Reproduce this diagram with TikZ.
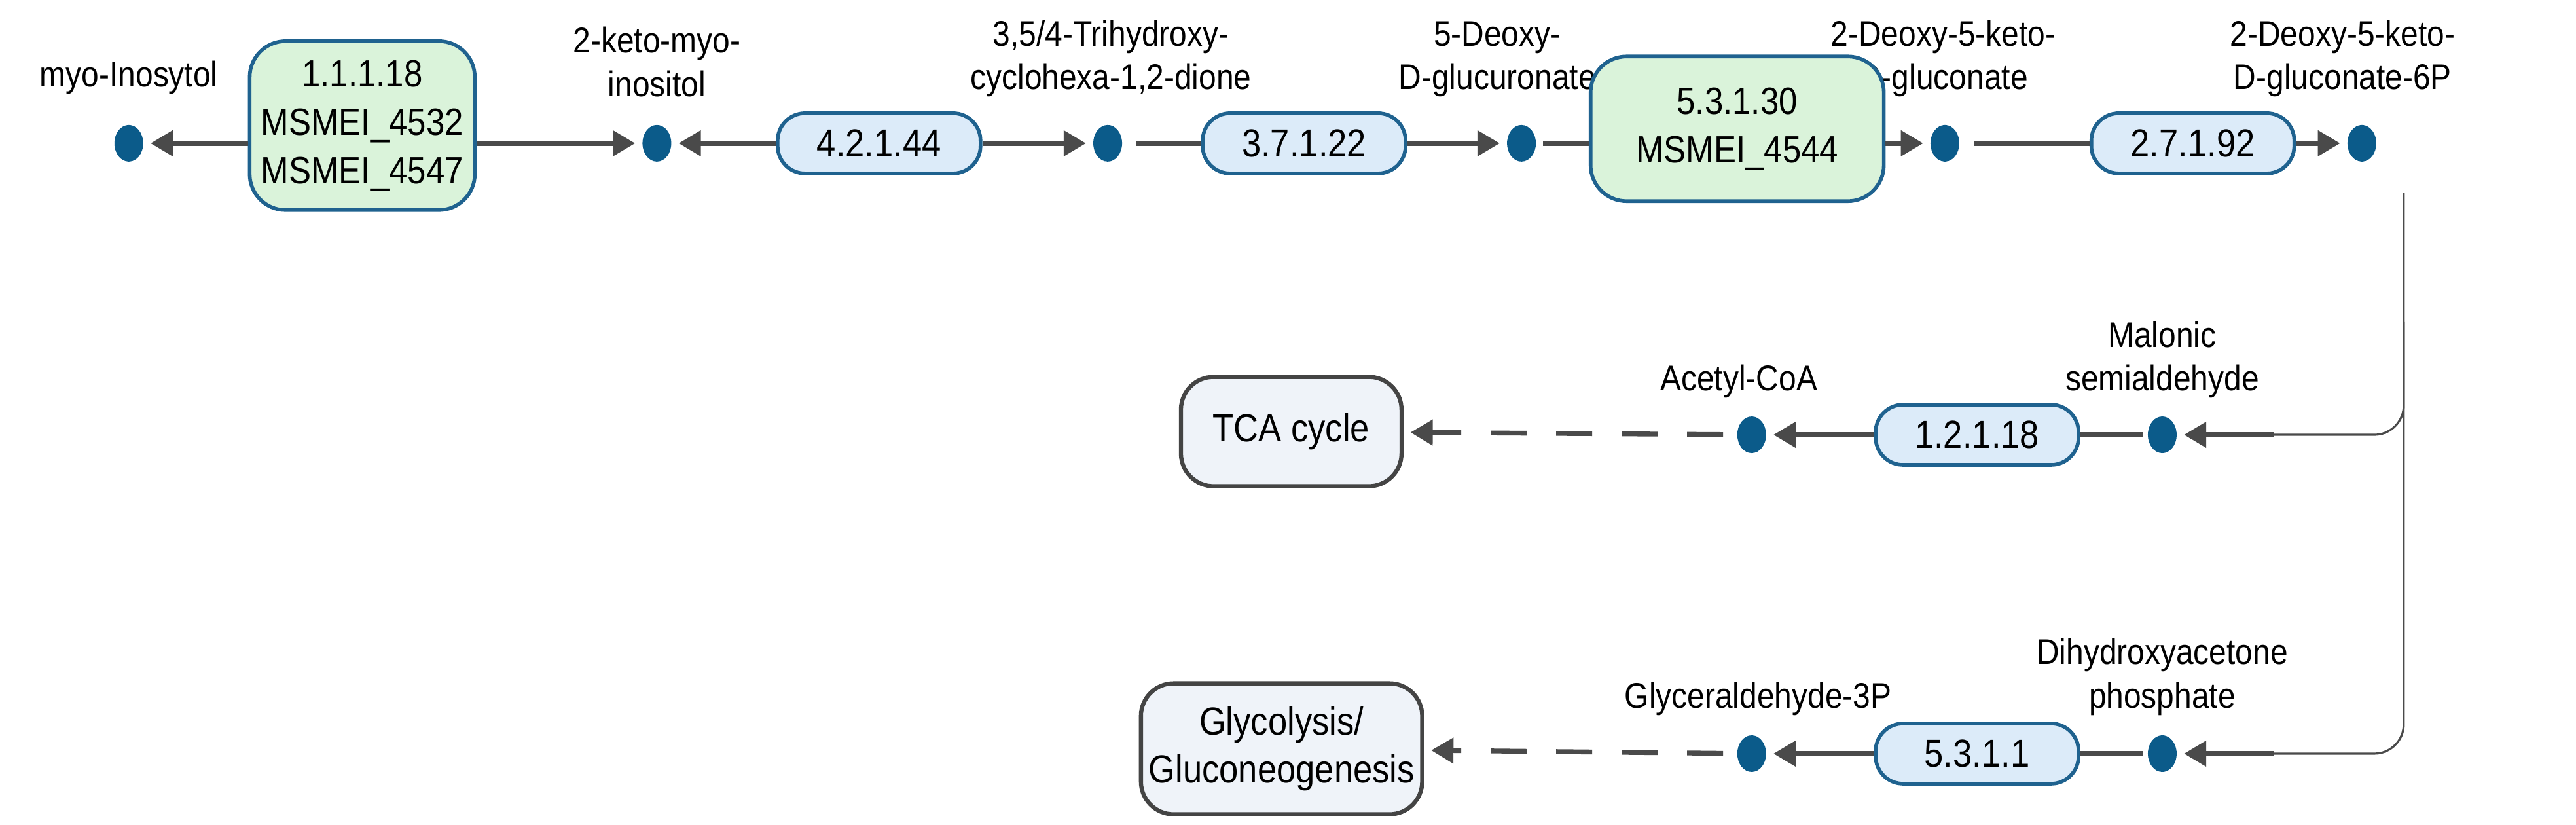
\documentclass[tikz,border=0pt]{standalone}
\usepackage{fontspec}
\setmainfont{Liberation Sans}[FakeStretch=0.88]
\usetikzlibrary{arrows.meta,shapes.geometric}
\definecolor{arr}{HTML}{4A4A4A}
\definecolor{dotb}{HTML}{0B5B8A}
\definecolor{bord}{HTML}{1F628F}
\definecolor{gfill}{HTML}{DAF3DA}
\definecolor{bfill}{HTML}{DCEBF9}
\definecolor{pfill}{HTML}{EFF3F9}
\definecolor{pbord}{HTML}{444444}
\begin{document}
\begin{tikzpicture}[x=0.02459cm,y=-0.02459cm,
  dot/.style={ellipse,fill=dotb,minimum width=0.44cm,minimum height=0.56cm,inner sep=0pt},
  lab/.style={font=\fontsize{15.5}{19}\selectfont,align=center,anchor=south,inner sep=1pt},
  enz/.style={draw=bord,fill=bfill,line width=1.6pt,rounded corners=0.42cm,minimum width=3.1cm,minimum height=0.92cm,font=\fontsize{17}{20}\selectfont,inner sep=2pt},
  gbox/.style={draw=bord,fill=gfill,line width=1.6pt,rounded corners=0.55cm,font=\fontsize{16.5}{21}\selectfont,align=center},
  pbox/.style={draw=pbord,fill=pfill,line width=1.8pt,rounded corners=0.5cm,font=\fontsize{17}{21}\selectfont,align=center},
  ar/.style={draw=arr,line width=2.1pt,-{Triangle[length=0.34cm,width=0.38cm]},shorten >=3pt},
  ln/.style={draw=arr,line width=2.1pt},
  da/.style={ar,dash pattern=on 0.55cm off 0.45cm},
  br/.style={draw=arr,line width=0.9pt,rounded corners=0.45cm}]
\useasboundingbox (0,0) rectangle (1600,512);
% row 1 dots
\node[dot] (d1) at (80,89) {};
\node[dot] (d2) at (408,89) {};
\node[dot] (d3) at (688,89) {};
\node[dot] (d4) at (945,89) {};
\node[dot] (d5) at (1208,89) {};
\node[dot] (d6) at (1467,89) {};
% row 2 / 3 dots
\node[dot] (m) at (1343,270) {};
\node[dot] (ac) at (1088,270) {};
\node[dot] (dh) at (1343,468) {};
\node[dot] (g3) at (1088,468) {};
% labels
\node[lab] at (80,60) {myo-Inosytol};
\node[lab] at (408,62) {2-keto-myo-\\inositol};
\node[lab] at (690,62) {3,5/4-Trihydroxy-\\cyclohexa-1,2-dione};
\node[lab] at (930,62) {5-Deoxy-\\D-glucuronate};
\node[lab] at (1207,62) {2-Deoxy-5-keto-\\D-gluconate};
\node[lab] at (1455,62) {2-Deoxy-5-keto-\\D-gluconate-6P};
\node[lab] at (1080,249) {Acetyl-CoA};
\node[lab] at (1343,249) {Malonic\\semialdehyde};
\node[lab] at (1092,446) {Glyceraldehyde-3P};
\node[lab] at (1343,446) {Dihydroxyacetone\\phosphate};
% enzyme boxes
\node[gbox,minimum width=3.44cm,minimum height=2.58cm] (e1) at (225,78) {1.1.1.18\\MSMEI\_4532\\MSMEI\_4547};
\node[enz] (e2) at (546,89) {4.2.1.44};
\node[enz] (e3) at (810,89) {3.7.1.22};
\node[gbox,minimum width=4.48cm,minimum height=2.21cm] (e4) at (1079,80) {5.3.1.30\\MSMEI\_4544};
\node[enz] (e5) at (1362,89) {2.7.1.92};
\node[enz] (e6) at (1228,270) {1.2.1.18};
\node[enz] (e7) at (1228,468) {5.3.1.1};
\node[pbox,minimum width=3.37cm,minimum height=1.67cm] (tca) at (802,268) {TCA cycle};
\node[pbox,minimum width=3.6cm,minimum height=2.0cm] (gly) at (796,465) {Glycolysis/\\Gluconeogenesis};
% connectors row 1
\draw[ar] (e1.west |- d1) -- (d1);
\draw[ar] (e1.east |- d2) -- (d2);
\draw[ar] (e2) -- (d2);
\draw[ar] (e2) -- (d3);
\draw[ln,shorten <=6pt] (d3) -- (e3);
\draw[ar] (e3) -- (d4);
\draw[ln,shorten <=3pt] (d4) -- (e4.west |- d4);
\draw[ar] (e4.east |- d5) -- (d5);
\draw[ln,shorten <=6pt] (d5) -- (e5);
\draw[ar] (e5) -- (d6);
% branch
\coordinate (top) at (1493,120);
\coordinate (c1) at (1493,270);
\coordinate (c2) at (1493,468);
\draw[br] (top) -- (c2) -- (1410,468);
\draw[br] (1493,200) -- (c1) -- (1410,270);
\draw[ar] (1412,270) -- (m);
\draw[ar] (1412,468) -- (dh);
% rows 2,3
\draw[ln,shorten <=2pt] (m) -- (e6);
\draw[ar] (e6) -- (ac);
\draw[da,shorten <=6pt] (ac) -- (tca);
\draw[ln,shorten <=2pt] (dh) -- (e7);
\draw[ar] (e7) -- (g3);
\draw[da,shorten <=6pt] (g3) -- (gly);
\end{tikzpicture}
\end{document}
